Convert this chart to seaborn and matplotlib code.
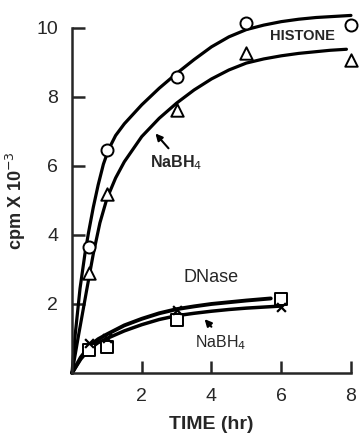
import matplotlib
matplotlib.use("Agg")
import matplotlib.pyplot as plt
import seaborn as sns

sns.set_style("ticks")
plt.rcParams["font.family"] = ["Liberation Sans", "DejaVu Sans"]

# ---------- data ----------
# measured points
hist_t = [0.5, 1, 3, 5, 8]
hist_ctrl = [3.65, 6.45, 8.57, 10.13, 10.08]      # circles
hist_nabh4 = [2.9, 5.18, 7.63, 9.27, 9.07]        # triangles

dnase_t = [0.5, 1, 3, 6]
dnase_ctrl = [0.67, 0.76, 1.55, 2.14]             # squares
dnase_nabh4 = [0.88, 1.0, 1.83, 1.92]             # crosses

# drawn curves (traced)
hist_curve_t = [0, 0.09, 0.23, 0.37, 0.47, 0.61, 0.75, 0.9, 1.05, 1.25, 1.5, 2.0, 2.5, 3.0,
                3.5, 4.0, 4.5, 5.0, 5.5, 6.0, 6.5, 7.0, 7.5, 8.0]
hist_curve_ctrl = [0, 1.1, 2.45, 3.45, 4.05, 4.8, 5.45, 6.05, 6.48, 6.88, 7.22, 7.77, 8.25, 8.68,
                   9.08, 9.45, 9.74, 9.95, 10.08, 10.18, 10.25, 10.3, 10.33, 10.36]
hist_curve2_t = [0, 0.18, 0.42, 0.61, 0.8, 1.0, 1.25, 1.5, 2.0, 2.5, 3.0, 3.5, 4.0, 4.5,
                 5.0, 5.5, 6.0, 6.5, 7.0, 7.4, 7.87]
hist_curve_nabh4 = [0, 1.05, 2.4, 3.45, 4.35, 5.05, 5.65, 6.12, 6.85, 7.38, 7.82, 8.2, 8.52, 8.78,
                    8.98, 9.1, 9.19, 9.26, 9.31, 9.35, 9.38]

dn_curve_t = [0, 0.25, 0.5, 0.75, 1.0, 1.5, 2.0, 2.5, 3.0, 3.5, 4.0, 4.5, 5.0, 5.7]
dn_curve_ctrl = [0, 0.45, 0.78, 0.98, 1.12, 1.38, 1.57, 1.73, 1.85, 1.93, 2.0, 2.05, 2.1, 2.16]
dn_curve2_t = [0, 0.25, 0.5, 0.75, 1.0, 1.5, 2.0, 2.5, 3.0, 3.5, 4.0, 4.5, 5.0, 5.5, 6.0]
dn_curve_nabh4 = [0, 0.4, 0.7, 0.88, 1.0, 1.22, 1.4, 1.55, 1.66, 1.73, 1.79, 1.84, 1.88, 1.91, 1.94]

x_ticks = [2, 4, 6, 8]
y_ticks = [2, 4, 6, 8, 10]

# ---------- plot ----------
fig = plt.figure(figsize=(3.59, 4.38), dpi=100)
ax = fig.add_axes([0.2006, 0.1484, 0.777, 0.788])

lw = 2.3
for t, y, w in [(hist_curve_t, hist_curve_ctrl, lw), (hist_curve2_t, hist_curve_nabh4, lw),
                (dn_curve_t, dn_curve_ctrl, lw + 0.5), (dn_curve2_t, dn_curve_nabh4, lw + 0.2)]:
    sns.lineplot(x=t, y=y, ax=ax, color="black", linewidth=w, sort=False,
                 estimator=None, clip_on=False, zorder=2)

mk = dict(facecolor="white", edgecolor="black", linewidth=1.4, clip_on=False, zorder=3, legend=False)
sns.scatterplot(x=hist_t, y=hist_ctrl, marker="o", s=75, ax=ax, **mk)
sns.scatterplot(x=hist_t, y=hist_nabh4, marker="^", s=80, ax=ax, **mk)
sns.scatterplot(x=dnase_t, y=dnase_ctrl, marker="s", s=70, ax=ax, **mk)
sns.scatterplot(x=dnase_t, y=dnase_nabh4, marker="x", s=40, color="black", linewidth=1.6,
                clip_on=False, zorder=4, legend=False, ax=ax)

ax.set_xlim(0, 8)
ax.set_ylim(0, 10)
ax.set_xticks(x_ticks)
ax.set_yticks(y_ticks)
ax.set_xticklabels([str(v) for v in x_ticks], fontsize=14)
ax.set_yticklabels([str(v) for v in y_ticks], fontsize=14)
ax.tick_params(direction="in", length=9, width=1.8, pad=10)
ax.tick_params(axis="x", pad=11)
sns.despine(ax=ax)
for s in ["left", "bottom"]:
    ax.spines[s].set_linewidth(1.8)

ax.set_xlabel("TIME (hr)", fontsize=14, fontweight="bold", labelpad=8)
ax.set_ylabel(r"cpm X 10$^{-3}$", fontsize=13, fontweight="bold", labelpad=6)

ax.text(6.6, 9.77, "HISTONE", fontsize=10.5, fontweight="bold", ha="center", va="center")
ax.text(2.98, 6.1, r"NaBH$_4$", fontsize=11.5, fontweight="bold", ha="center", va="center")
ax.annotate("", xy=(2.34, 7.0), xytext=(2.82, 6.45),
            arrowprops=dict(arrowstyle="-|>", color="black", lw=1.5, mutation_scale=10))
ax.text(4.0, 2.78, "DNase", fontsize=13, ha="center", va="center")
ax.text(4.27, 0.87, r"NaBH$_4$", fontsize=11.5, ha="center", va="center")
ax.annotate("", xy=(3.75, 1.62), xytext=(4.05, 1.28),
            arrowprops=dict(arrowstyle="-|>", color="black", lw=1.5, mutation_scale=10))

fig.savefig("out.png", dpi=100)
